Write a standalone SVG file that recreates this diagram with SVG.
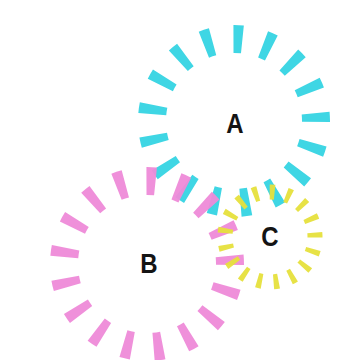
<svg xmlns="http://www.w3.org/2000/svg" width="337" height="360" viewBox="0 0 337 360">
<style>
.ring{fill:none;stroke-dasharray:0.3 0.7;stroke-dashoffset:0.268}
.lbl{font-family:"Liberation Sans",Arial,sans-serif;font-weight:bold;font-size:24px;fill:#141414;text-anchor:middle}
</style>
<rect width="337" height="360" fill="#ffffff"/>
<g id="nodeA">
<circle class="ring" cx="234" cy="121" r="82" pathLength="17" stroke="#3fd6e4" stroke-width="28"/>
<text class="lbl" x="235" y="133" transform="translate(235 133) scale(1 1.15) translate(-235 -133)">A</text>
</g>
<g id="nodeB">
<circle class="ring" cx="147" cy="264" r="83" pathLength="17" stroke="#ee8ad8" stroke-width="28" opacity="0.95"/>
<text class="lbl" x="149" y="273" transform="translate(149 273) scale(1 1.15) translate(-149 -273)">B</text>
</g>
<g id="nodeC">
<circle class="ring" cx="270" cy="237" r="45" pathLength="17" stroke="#e6e03c" stroke-width="15" opacity="0.95"/>
<text class="lbl" x="270" y="246" transform="translate(270 246) scale(1 1.15) translate(-270 -246)">C</text>
</g>
<g id="connectors"></g>
</svg>
